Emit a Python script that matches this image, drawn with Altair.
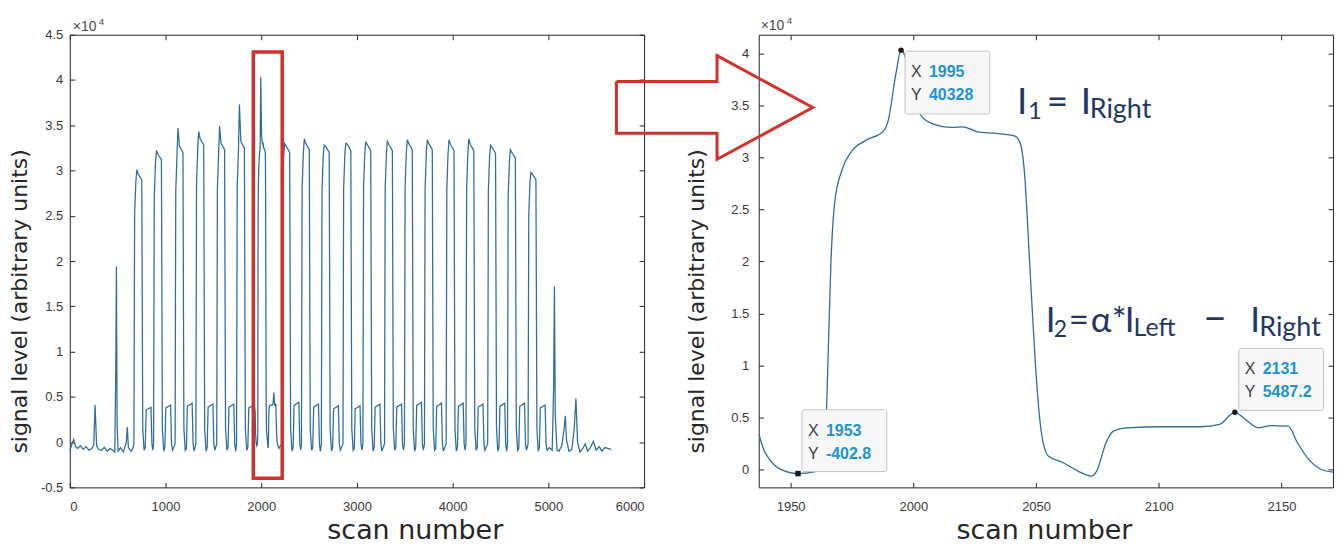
import altair as alt
import pandas as pd

# ---------------- data ----------------
# overview trace (left panel): scan number / signal level
left_scan = (
    [0, 20, 40, 60, 80, 110, 140, 170, 200, 230, 250, 264, 280, 300, 330, 360, 390, 420, 450, 470,
     480, 487, 494, 505, 530, 560, 590, 601, 612, 640, 658]
    + [670, 677, 690, 700, 715, 752, 762, 776, 788, 798, 848, 858, 868]
    + [875, 882, 895, 905, 920, 957, 967, 981, 993, 1003, 1053, 1063, 1073]
    + [1100, 1107, 1120, 1130, 1145, 1182, 1192, 1206, 1218, 1228, 1278, 1288, 1298]
    + [1317, 1324, 1337, 1347, 1362, 1399, 1409, 1423, 1435, 1445, 1495, 1505, 1515]
    + [1535, 1542, 1555, 1565, 1580, 1617, 1627, 1641, 1653, 1663, 1713, 1723, 1733]
    + [1742, 1749, 1762, 1772, 1787, 1824, 1834, 1848, 1860, 1870, 1928, 1937, 1941, 1946]
    + [1953, 1959.5, 1963.8, 1964.8, 1966.4, 1967.9, 1970.9, 1974.7, 1980.8, 1987.6,
       1989.8, 1992.9, 1995, 2003.5, 2009.5, 2015.6, 2020.2, 2026.2, 2033.8, 2041.4,
       2043.6, 2045.2, 2047.4, 2049.7, 2052, 2055, 2061, 2067.1, 2072.4, 2074.7,
       2078.5, 2081.5, 2086.8, 2102, 2117.1, 2124.7, 2131, 2135.3, 2140.6, 2145.9,
       2152.7, 2156.5, 2161.1, 2165.6, 2170.9, 2185, 2200]
    + [2215, 2222, 2235, 2245, 2260, 2297, 2307, 2321, 2333, 2343, 2393, 2403, 2413]
    + [2420, 2427, 2440, 2450, 2465, 2502, 2512, 2526, 2538, 2548, 2598, 2608, 2618]
    + [2628, 2635, 2648, 2658, 2673, 2710, 2720, 2734, 2746, 2756, 2806, 2816, 2826]
    + [2854, 2861, 2874, 2884, 2899, 2936, 2946, 2960, 2972, 2982, 3032, 3042, 3052]
    + [3062, 3069, 3082, 3092, 3107, 3144, 3154, 3168, 3180, 3190, 3240, 3250, 3260]
    + [3288, 3295, 3308, 3318, 3333, 3370, 3380, 3394, 3406, 3416, 3466, 3476, 3486]
    + [3496, 3503, 3516, 3526, 3541, 3578, 3588, 3602, 3614, 3624, 3674, 3684, 3694]
    + [3705, 3712, 3725, 3735, 3750, 3787, 3797, 3811, 3823, 3833, 3883, 3893, 3903]
    + [3932, 3939, 3952, 3962, 3977, 4014, 4024, 4038, 4050, 4060, 4110, 4120, 4130]
    + [4139, 4146, 4159, 4169, 4184, 4221, 4231, 4245, 4257, 4267, 4317, 4327, 4337]
    + [4366, 4373, 4386, 4396, 4411, 4448, 4458, 4472, 4484, 4494, 4544, 4554, 4564]
    + [4573, 4580, 4593, 4603, 4618, 4655, 4665, 4679, 4691, 4701, 4751, 4761, 4771]
    + [4788, 4795, 4808, 4818, 4833, 4870, 4880, 4894, 4906, 4916, 4966, 4976, 4986]
    + [5010, 5040, 5055, 5063, 5072, 5090, 5110, 5140, 5165, 5177, 5190, 5215, 5245, 5270,
       5288, 5305, 5330, 5360, 5385, 5410, 5440, 5470, 5500, 5530, 5560, 5590, 5620, 5656]
)
left_signal = (
    [-1000, -300, 300, -500, -700, -400, -800, -500, -900, -700, -300, 4100, -400, -800, -900,
     -600, -1000, -700, -900, -1100, 8000, 19400, 2000, -1000, -600, -1100, 0, 1650, -600, -1000, -700]
    + [-200, 25200, 28700, 30100, 29600, 29000, 1500, -900, -600, 3540, 3850, -200, -900]
    + [-200, 27000, 30800, 32200, 31800, 31200, 1500, -1000, -600, 3770, 4100, -200, -900]
    + [-200, 27800, 31700, 34700, 32700, 32000, 1500, -900, -700, 3960, 4300, -200, -1000]
    + [-200, 28500, 32500, 34300, 33500, 32800, 1500, -1000, -600, 3860, 4200, -200, -900]
    + [-200, 28000, 32000, 34900, 33000, 32300, 1500, -900, -600, 3860, 4200, -200, -1000]
    + [-200, 28200, 32200, 37300, 33200, 32500, 1500, -900, -600, 3770, 4100, 3360, 960, 0]
    + [-402.8, -250, 640, 7040, 19840, 25600, 28800, 30560, 31680, 32480,
       33600, 38080, 40328, 33920, 33120, 32900, 32960, 32480, 32320, 32060,
       31360, 28800, 19840, 10240, 3840, 1280, 640, -160, -640, -160,
       2560, 3680, 4000, 4100, 4100, 4320, 5487.2, 4800, 4000, 4220,
       4160, 2560, 960, 64, -256, -700, -400]
    + [-200, 27800, 31700, 33000, 32700, 32000, 1500, -1000, -600, 4050, 4400, -200, -900]
    + [-200, 28000, 32000, 33500, 33000, 32300, 1500, -900, -600, 3860, 4200, -200, -1000]
    + [-200, 27800, 31700, 32800, 32700, 32000, 1500, -1000, -600, 3680, 4000, -200, -900]
    + [-200, 28000, 31900, 33000, 32900, 32200, 1500, -900, -700, 3680, 4000, -200, -900]
    + [-200, 28000, 31900, 33100, 32900, 32200, 1500, -1000, -600, 3860, 4200, -200, -1000]
    + [-200, 28000, 31900, 33200, 32900, 32200, 1500, -900, -600, 3860, 4200, -200, -900]
    + [-200, 28000, 32000, 33400, 33000, 32300, 1500, -1000, -600, 4050, 4400, -200, -900]
    + [-200, 28000, 32000, 33400, 33000, 32300, 1500, -900, -700, 3960, 4300, -200, -1000]
    + [-200, 28000, 31900, 33400, 32900, 32200, 1500, -1000, -600, 3960, 4300, -200, -900]
    + [-200, 28000, 31900, 33500, 32900, 32200, 1500, -900, -600, 3860, 4200, -200, -900]
    + [-200, 27700, 31600, 32800, 32600, 31900, 1500, -1000, -600, 3960, 4300, -200, -1000]
    + [-200, 27200, 31000, 32300, 32000, 31400, 1500, -900, -700, 3960, 4300, -200, -900]
    + [-200, 25200, 28700, 29800, 29600, 29000, 1500, -1000, -600, 3770, 4100, -200, -900]
    + [-600, -900, 6000, 17200, 3000, -900, -1000, -400, 1500, 2900, 200, -1000, -800, 1500,
       4800, 0, -1100, -700, -200, -1000, -600, 100, -900, -500, -1000, -600, -700, -800]
)

# zoomed trace (right panel)
zoom_scan = [1937.1, 1939.1, 1941.4, 1945.9, 1953, 1959.5, 1963.8, 1964.8, 1966.4, 1967.9,
             1970.9, 1974.7, 1980.8, 1987.6, 1989.8, 1992.9, 1995, 2003.5, 2009.5, 2015.6,
             2020.2, 2026.2, 2033.8, 2041.4, 2043.6, 2045.2, 2047.4, 2049.7, 2052, 2055,
             2061, 2067.1, 2072.4, 2074.7, 2078.5, 2081.5, 2086.8, 2102, 2117.1, 2124.7,
             2131, 2135.3, 2140.6, 2145.9, 2152.7, 2156.5, 2161.1, 2165.6, 2170.9]
zoom_signal = [3360, 1856, 960, 0, -402.8, -250, 640, 7040, 19840, 25600,
               28800, 30560, 31680, 32480, 33600, 38080, 40328, 33920, 33120, 32900,
               32960, 32480, 32320, 32060, 31360, 28800, 19840, 10240, 3840, 1280,
               640, -160, -640, -160, 2560, 3680, 4000, 4100, 4100, 4320,
               5487.2, 4800, 4000, 4220, 4160, 2560, 960, 64, -256]

# red selection box on the overview (scan, signal corners)
box_scan = [1917, 2219]
box_signal = [43100, -4000]

# data tips
tip_scan = [1953, 1995, 2131]
tip_signal = [-402.8, 40328, 5487.2]
tip_xtext = ["1953", "1995", "2131"]
tip_ytext = ["-402.8", "40328", "5487.2"]
tip_side = ["above", "below", "above"]
tip_marker = ["square", "circle", "circle"]

# red outline arrow (in right-panel data units)
arrow_scan = [1879, 1920, 1920, 1959, 1920, 1920, 1879, 1879]
arrow_signal = [37310, 37310, 39810, 34820, 29830, 32330, 32330, 37310]

left_xticks = [0, 1000, 2000, 3000, 4000, 5000, 6000]
left_yticks = [-5000, 0, 5000, 10000, 15000, 20000, 25000, 30000, 35000, 40000, 45000]
zoom_xticks = [1950, 2000, 2050, 2100, 2150]
zoom_yticks = [0, 5000, 10000, 15000, 20000, 25000, 30000, 35000, 40000]

assert len(left_scan) == len(left_signal)
assert len(zoom_scan) == len(zoom_signal)

# ---------------- styling ----------------
LINE = "#2c6c9c"
RED = "#d3302b"
FRAME = "#262626"
NAVY = "#1f3864"
TIPBLUE = "#1b93d6"
LABEL = "#3a3a3a"
W, H = 576, 454


def x_axis(values, title_x):
    return alt.Axis(orient="bottom", values=values, format="d", title="scan number",
                    domain=False, grid=False, tickSize=5, tickColor=FRAME, offset=-5,
                    labelPadding=13, labelFont="Liberation Sans", labelFontSize=13,
                    labelColor=LABEL, titleFont="DejaVu Sans", titleFontSize=27,
                    titleFontWeight="normal", titleColor="#262626", titleX=title_x,
                    titleY=56, titleAlign="center", titleBaseline="alphabetic")


def y_axis(values, title_x, pad):
    return alt.Axis(orient="left", values=values, labelExpr="datum.value / 10000",
                    title="signal level (arbitrary units)", domain=False, grid=False,
                    tickSize=5, tickColor=FRAME, offset=-5, labelPadding=pad,
                    labelFont="Liberation Sans", labelFontSize=13, labelColor=LABEL,
                    titleFont="DejaVu Sans", titleFontSize=22, titleFontWeight="normal",
                    titleColor="#262626", titleX=title_x, titleY=267, titleAngle=270,
                    titleAlign="center", titleBaseline="middle")


def mirror_axis(orient, values):
    return alt.Axis(orient=orient, values=values, labels=False, title=None, domain=False,
                    grid=False, tickSize=5, tickColor=FRAME, offset=-5)


one = pd.DataFrame({"k": [0]})


def free_text(text, x, y, size, color, font, weight="normal"):
    return alt.Chart(one).mark_text(text=text, align="left", baseline="alphabetic",
                                    fontSize=size, font=font, color=color,
                                    fontWeight=weight).encode(x=alt.value(x), y=alt.value(y))


def exponent(x, y):
    return [free_text("\u00d710", x, y, 14, "#4a4a4a", "Liberation Sans"),
            free_text("4", x + 26, y - 6, 10, "#4a4a4a", "Liberation Sans")]


# ---------------- left panel ----------------
lx = alt.Scale(domain=[0, 6000], nice=False, zero=False)
ly = alt.Scale(domain=[-5000, 45000], nice=False, zero=False)
ldf = pd.DataFrame({"scan": left_scan, "signal": left_signal})

left_line = alt.Chart(ldf).mark_line(color=LINE, strokeWidth=1.25).encode(
    x=alt.X("scan:Q", scale=lx, axis=x_axis(left_xticks, 346)),
    y=alt.Y("signal:Q", scale=ly, axis=y_axis(left_yticks, -55, 7)),
)
left_mirror = alt.Chart(ldf).mark_line(opacity=0).encode(
    x=alt.X("scan:Q", scale=lx, axis=mirror_axis("top", left_xticks)),
    y=alt.Y("signal:Q", scale=ly, axis=mirror_axis("right", left_yticks)),
)
bdf = pd.DataFrame({"x0": [box_scan[0]], "x1": [box_scan[1]],
                    "y0": [box_signal[0]], "y1": [box_signal[1]]})
left_box = alt.Chart(bdf).mark_rect(fillOpacity=0, stroke=RED, strokeWidth=3.5).encode(
    x=alt.X("x0:Q", scale=lx, axis=None), x2="x1",
    y=alt.Y("y0:Q", scale=ly, axis=None), y2="y1",
)
left = alt.layer(left_line, left_mirror, left_box, *exponent(3, -4)).resolve_axis(
    x="independent", y="independent").properties(width=W, height=H)

# ---------------- right panel ----------------
rx = alt.Scale(domain=[1937, 2171], nice=False, zero=False)
ry = alt.Scale(domain=[-1730, 41820], nice=False, zero=False)
zdf = pd.DataFrame({"scan": zoom_scan, "signal": zoom_signal})

right_line = alt.Chart(zdf).mark_line(color=LINE, strokeWidth=1.3, interpolate="monotone").encode(
    x=alt.X("scan:Q", scale=rx, axis=x_axis(zoom_xticks, 286)),
    y=alt.Y("signal:Q", scale=ry, axis=y_axis(zoom_yticks, -67, 10)),
)
right_mirror = alt.Chart(zdf).mark_line(opacity=0).encode(
    x=alt.X("scan:Q", scale=rx, axis=mirror_axis("top", zoom_xticks)),
    y=alt.Y("signal:Q", scale=ry, axis=mirror_axis("right", zoom_yticks)),
)
adf = pd.DataFrame({"scan": arrow_scan, "signal": arrow_signal, "k": list(range(len(arrow_scan)))})
arrow = alt.Chart(adf).mark_line(color=RED, strokeWidth=3, clip=False, strokeJoin="miter").encode(
    x=alt.X("scan:Q", scale=rx, axis=None),
    y=alt.Y("signal:Q", scale=ry, axis=None),
    order="k:Q",
)

tdf = pd.DataFrame({"scan": tip_scan, "signal": tip_signal, "xt": tip_xtext, "yt": tip_ytext,
                    "side": tip_side, "marker": tip_marker})
tx = alt.X("scan:Q", scale=rx, axis=None)
ty = alt.Y("signal:Q", scale=ry, axis=None)
tip_layers = []
for side, (r0, r1, d1, d2) in {"above": (-64, -2, -43, -20), "below": (1, 64, 22, 45)}.items():
    sub = alt.Chart(tdf).transform_filter(alt.datum.side == side)
    tip_layers.append(sub.mark_rect(fill="#f7f7f7", stroke="#c2c2c2", strokeWidth=1,
                                    cornerRadius=2, xOffset=4, x2Offset=89,
                                    yOffset=r0, y2Offset=r1).encode(
        x=tx, x2=alt.X2("scan"), y=ty, y2=alt.Y2("signal")))
    for lab, field, dy in (("X", "xt", d1), ("Y", "yt", d2)):
        tip_layers.append(sub.mark_text(text=lab, align="left", baseline="middle", dx=10, dy=dy,
                                        font="Liberation Sans", fontSize=16,
                                        color="#3d3d3d").encode(x=tx, y=ty))
        tip_layers.append(sub.mark_text(align="left", baseline="middle", dx=28, dy=dy,
                                        font="Liberation Sans", fontSize=16, fontWeight="bold",
                                        color=TIPBLUE).encode(x=tx, y=ty, text=f"{field}:N"))
tip_points = alt.Chart(tdf).mark_point(filled=True, color="#1a1a1a", size=30, opacity=1).encode(
    x=tx, y=ty,
    shape=alt.Shape("marker:N", scale=alt.Scale(domain=["circle", "square"],
                                               range=["circle", "square"]), legend=None),
)

formula_pieces = [
    ("I", 259, 80, 37), ("1", 270, 85, 24), ("=", 289, 80, 37), ("I", 323, 80, 37),
    ("Right", 332, 84, 27),
    ("I", 288, 298, 35), ("2", 296, 303, 23), ("=", 311, 298, 35), ("\u03b1", 333, 298, 35),
    ("*", 354, 298, 35), ("I", 367, 298, 35), ("Left", 376, 302, 25), ("\u2212", 446, 298, 40),
    ("I", 493, 298, 35), ("Right", 502, 302, 27),
]
formula_layers = [free_text(t, x, y, s, NAVY, "Lato") for t, x, y, s in formula_pieces]

right = alt.layer(right_line, right_mirror, *tip_layers, tip_points, *formula_layers,
                  *exponent(2, -5), arrow).resolve_axis(
    x="independent", y="independent").properties(width=W, height=H)

chart = alt.hconcat(left, right, spacing=115, bounds="flush").properties(
    padding={"left": 0, "top": 6, "right": 0, "bottom": 0}, background="white"
).configure_view(stroke=FRAME, strokeWidth=1)

chart.save("out.html", embed_options={"renderer": "svg", "actions": False})
